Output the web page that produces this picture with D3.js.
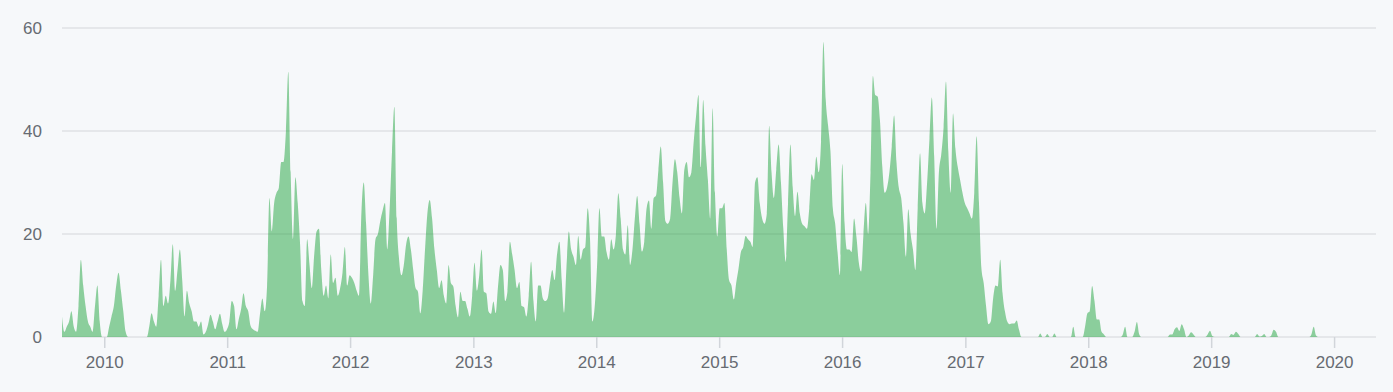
<!DOCTYPE html>
<html>
<head>
<meta charset="utf-8">
<script src="https://cdn.jsdelivr.net/npm/d3@7"></script>
<style>
  html, body { margin: 0; padding: 0; background: #f6f8fa; }
  svg text { font-family: "Liberation Sans", Arial, Helvetica, sans-serif; }
</style>
</head>
<body>
<div id="chart"></div>
<script>
// weekly commits, first week starting 2009-08-27
var startDate = new Date(2009, 7, 27);

var commits = [
  4, 1, 2, 3, 5, 2, 1, 6, 15, 10,
  6, 3, 2, 1, 6, 10, 3, 0, 0, 0,
  2, 4, 6, 10, 12.5, 9, 5, 1, 0, 0,
  0, 0, 0, 0, 0, 0, 0, 2, 4.6, 3,
  2, 8, 15, 6, 8, 6.5, 11, 18, 9, 13,
  17, 11, 4, 9, 6.5, 5, 3, 3, 2, 3,
  0.5, 1, 2.5, 4.3, 3, 1.5, 3, 4.5, 2.5, 1,
  1.5, 3, 7, 6, 1.5, 3.5, 5.5, 8.5, 6, 5,
  2.2, 1.5, 1.2, 1, 4.5, 7.5, 5, 10, 27, 20.5,
  26, 28, 29, 34, 34, 40, 51.5, 32, 19, 31,
  26, 18, 7, 6, 19, 14, 9.5, 16, 20.5, 21,
  13, 8, 10, 7.5, 16, 10.5, 11.5, 8, 9.5, 12.5,
  17.5, 10, 12, 11.5, 10.5, 9, 8, 24, 30, 22,
  12, 6.5, 12, 19, 20, 22.5, 24.5, 26, 17, 25,
  36, 44.7, 23, 15, 12, 14, 18, 19.5, 17, 13,
  9.5, 8.8, 4.6, 9, 17, 24, 26.6, 23, 17, 13,
  9.5, 11, 8, 6.5, 14, 10.5, 9.8, 6, 3.8, 8.8,
  7, 7, 5.5, 4, 8, 14.4, 9, 12, 17, 8.8,
  8.5, 4.9, 4.5, 6.9, 4.6, 10, 14, 13, 7, 9,
  18.5, 16, 13, 9.5, 10.7, 6, 5.8, 4, 8, 14.6,
  7, 3, 10, 10, 7.5, 7, 7.5, 10.5, 13, 11,
  16, 18.5, 11, 4.7, 13.5, 20.5, 17, 15.6, 14, 19.6,
  15, 17, 17.5, 25, 19, 3, 6, 14, 25, 19.5,
  19.5, 16.5, 15, 19, 17, 20, 27.9, 23, 17, 16,
  21.7, 14, 17, 23, 27.4, 22, 16.6, 18.5, 25, 26.5,
  21, 27, 27.5, 32.4, 37, 30, 22.5, 22, 23, 30,
  34.5, 32, 27, 24, 32.5, 34, 31, 32, 38, 43,
  47, 33, 46, 37, 30.5, 23, 44.4, 28, 19.5, 25,
  25, 26, 17, 11, 10, 7.3, 10.5, 13.3, 16.5, 17.5,
  19.6, 19, 18.5, 17.5, 30, 31, 26, 23, 22, 24,
  41, 32, 27, 32.5, 37.4, 30, 21, 14.6, 26, 37.4,
  29, 23.5, 28.2, 24, 22, 21.5, 21, 25, 31.6, 30.5,
  35, 32, 38, 57.3, 46, 41, 36, 25, 22, 16.5,
  12, 33.6, 22, 17, 17, 16.5, 23, 19.5, 14.5, 12.7,
  20, 26, 20, 32, 50.7, 47, 46.7, 42, 33, 28,
  29, 32, 37, 43, 34, 29, 27, 22, 15.6, 24.8,
  20, 17, 13, 25, 35.7, 26, 24, 30, 38.5, 46.5,
  35, 21, 32, 35.5, 40.8, 49.6, 36, 28, 43.4, 36.6,
  33, 30.5, 28, 26, 25, 24, 23, 28, 39, 26,
  13.5, 10.5, 6, 2.5, 3, 7.5, 10, 9.8, 15, 8.5,
  5, 3, 2.5, 2.6, 2.6, 3.2, 1.4, 0, 0, 0,
  0, 0, 0, 0, 0, 0.7, 0, 0, 0.6, 0,
  0, 0.7, 0, 0, 0, 0, 0, 0, 0, 2,
  0, 0, 0, 0, 2, 4.6, 5, 9.9, 7, 3.4,
  3.4, 1, 0.5, 0, 0, 0, 0, 0, 0, 0,
  0.5, 2, 0, 0, 0, 1, 2.9, 0.5, 0, 0,
  0, 0, 0, 0, 0, 0, 0, 0, 0, 0,
  0.5, 0.5, 1.5, 1.9, 1.2, 2.5, 1.5, 0, 0.3, 0.9,
  0.5, 0, 0, 0, 0, 0, 0.5, 1.2, 0.2, 0,
  0, 0, 0, 0, 0, 0, 0.6, 0.4, 1, 0.6,
  0, 0, 0, 0, 0, 0, 0, 0.6, 0.1, 0.2,
  0.6, 0, 0, 0.3, 1.4, 1, 0, 0, 0, 0,
  0, 0, 0, 0, 0, 0, 0, 0, 0, 0,
  0.5, 2, 0.3, 0, 0, 0, 0, 0, 0, 0,
  0, 0, 0, 0, 0, 0, 0, 0, 0, 0,
  0, 0, 0, 0, 0, 0, 0, 0
];

var yTicks = [0, 20, 40, 60];

var weeks = commits.map(function(c, i) {
  return { date: d3.timeDay.offset(startDate, i * 7), value: c };
});

var width = 1393, height = 392;

var svg = d3.select("#chart").append("svg")
  .attr("width", width)
  .attr("height", height);

var x = d3.scaleTime()
  .domain([weeks[0].date, weeks[weeks.length - 1].date])
  .range([62, 1375]);

var y = d3.scaleLinear()
  .domain([0, 60])
  .range([337, 28]);

// grid
svg.append("g")
  .selectAll("line")
  .data(yTicks)
  .enter().append("line")
  .attr("x1", 62)
  .attr("x2", 1376)
  .attr("y1", d => y(d))
  .attr("y2", d => y(d))
  .attr("stroke", "#dfe2e5")
  .attr("stroke-width", 1.5);

// y labels
svg.append("g")
  .selectAll("text")
  .data(yTicks)
  .enter().append("text")
  .attr("x", 42)
  .attr("y", d => y(d))
  .attr("dy", "0.35em")
  .attr("text-anchor", "end")
  .attr("fill", "#666b72")
  .style("font-size", "17px")
  .text(d => d);

// area
var area = d3.area()
  .curve(d3.curveMonotoneX)
  .x(d => x(d.date))
  .y0(y(0))
  .y1(d => y(d.value));

svg.append("path")
  .datum(weeks)
  .attr("d", area)
  .attr("fill", "#28a745")
  .attr("fill-opacity", 0.52);

// x axis ticks + labels
var years = x.ticks(d3.timeYear.every(1));

svg.append("g")
  .selectAll("line")
  .data(years)
  .enter().append("line")
  .attr("x1", d => x(d))
  .attr("x2", d => x(d))
  .attr("y1", 337)
  .attr("y2", 348)
  .attr("stroke", "#d1d5da")
  .attr("stroke-width", 1.5);

svg.append("g")
  .selectAll("text")
  .data(years)
  .enter().append("text")
  .attr("x", d => x(d))
  .attr("y", 362)
  .attr("dy", "0.35em")
  .attr("text-anchor", "middle")
  .attr("fill", "#666b72")
  .style("font-size", "17px")
  .text(d3.timeFormat("%Y"));
</script>
</body>
</html>
